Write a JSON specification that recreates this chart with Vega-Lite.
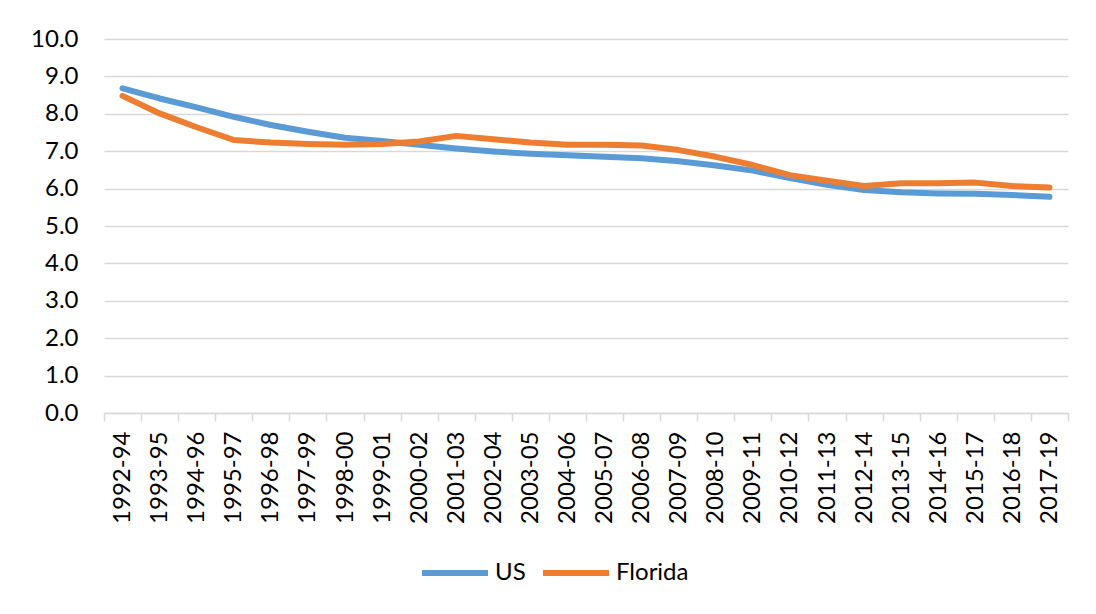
{
  "$schema": "https://vega.github.io/schema/vega-lite/v6.json",
  "autosize": {"type": "none"},
  "width": 964,
  "height": 374,
  "padding": {"left": 104, "top": 39, "right": 28, "bottom": 201},
  "background": "white",
  "config": {
    "font": "Lato",
    "view": {"stroke": null}
  },
  "data": {
    "values": [
      {"period": "1992-94", "series": "US", "value": 8.68},
      {"period": "1993-95", "series": "US", "value": 8.41},
      {"period": "1994-96", "series": "US", "value": 8.17},
      {"period": "1995-97", "series": "US", "value": 7.92},
      {"period": "1996-98", "series": "US", "value": 7.70},
      {"period": "1997-99", "series": "US", "value": 7.52},
      {"period": "1998-00", "series": "US", "value": 7.36},
      {"period": "1999-01", "series": "US", "value": 7.27},
      {"period": "2000-02", "series": "US", "value": 7.17},
      {"period": "2001-03", "series": "US", "value": 7.07},
      {"period": "2002-04", "series": "US", "value": 6.99},
      {"period": "2003-05", "series": "US", "value": 6.93},
      {"period": "2004-06", "series": "US", "value": 6.89},
      {"period": "2005-07", "series": "US", "value": 6.85},
      {"period": "2006-08", "series": "US", "value": 6.81},
      {"period": "2007-09", "series": "US", "value": 6.73},
      {"period": "2008-10", "series": "US", "value": 6.62},
      {"period": "2009-11", "series": "US", "value": 6.48},
      {"period": "2010-12", "series": "US", "value": 6.28},
      {"period": "2011-13", "series": "US", "value": 6.10},
      {"period": "2012-14", "series": "US", "value": 5.96},
      {"period": "2013-15", "series": "US", "value": 5.90},
      {"period": "2014-16", "series": "US", "value": 5.87},
      {"period": "2015-17", "series": "US", "value": 5.86},
      {"period": "2016-18", "series": "US", "value": 5.83},
      {"period": "2017-19", "series": "US", "value": 5.78},
      {"period": "1992-94", "series": "Florida", "value": 8.48},
      {"period": "1993-95", "series": "Florida", "value": 8.01},
      {"period": "1994-96", "series": "Florida", "value": 7.64},
      {"period": "1995-97", "series": "Florida", "value": 7.30},
      {"period": "1996-98", "series": "Florida", "value": 7.23},
      {"period": "1997-99", "series": "Florida", "value": 7.19},
      {"period": "1998-00", "series": "Florida", "value": 7.17},
      {"period": "1999-01", "series": "Florida", "value": 7.19},
      {"period": "2000-02", "series": "Florida", "value": 7.26},
      {"period": "2001-03", "series": "Florida", "value": 7.41},
      {"period": "2002-04", "series": "Florida", "value": 7.32},
      {"period": "2003-05", "series": "Florida", "value": 7.23},
      {"period": "2004-06", "series": "Florida", "value": 7.17},
      {"period": "2005-07", "series": "Florida", "value": 7.17},
      {"period": "2006-08", "series": "Florida", "value": 7.15},
      {"period": "2007-09", "series": "Florida", "value": 7.03},
      {"period": "2008-10", "series": "Florida", "value": 6.85},
      {"period": "2009-11", "series": "Florida", "value": 6.63},
      {"period": "2010-12", "series": "Florida", "value": 6.36},
      {"period": "2011-13", "series": "Florida", "value": 6.21},
      {"period": "2012-14", "series": "Florida", "value": 6.07},
      {"period": "2013-15", "series": "Florida", "value": 6.14},
      {"period": "2014-16", "series": "Florida", "value": 6.14},
      {"period": "2015-17", "series": "Florida", "value": 6.16},
      {"period": "2016-18", "series": "Florida", "value": 6.07},
      {"period": "2017-19", "series": "Florida", "value": 6.03}
    ]
  },
  "mark": {"type": "line", "strokeWidth": 6, "strokeCap": "round", "strokeJoin": "round"},
  "encoding": {
    "x": {
      "field": "period",
      "type": "ordinal",
      "sort": null,
      "scale": {"type": "band", "paddingInner": 0, "paddingOuter": 0},
      "axis": {
        "title": null,
        "labelAngle": 270,
        "labelFontSize": 24,
        "labelColor": "#000000",
        "labelPadding": 10,
        "tickBand": "extent",
        "tickSize": 8,
        "tickColor": "#D9D9D9",
        "tickWidth": 1.5,
        "domainColor": "#D9D9D9",
        "domainWidth": 1.5,
        "grid": false
      }
    },
    "y": {
      "field": "value",
      "type": "quantitative",
      "scale": {"domain": [0, 10], "nice": false, "zero": true},
      "axis": {
        "title": null,
        "values": [0, 1, 2, 3, 4, 5, 6, 7, 8, 9, 10],
        "format": ".1f",
        "labelFontSize": 24,
        "labelColor": "#000000",
        "labelPadding": 26,
        "ticks": false,
        "domain": false,
        "grid": true,
        "gridColor": "#D9D9D9",
        "gridWidth": 1.5
      }
    },
    "color": {
      "field": "series",
      "type": "nominal",
      "sort": ["US", "Florida"],
      "scale": {"domain": ["US", "Florida"], "range": ["#5B9BD5", "#ED7D31"]},
      "legend": {
        "title": null,
        "orient": "none",
        "direction": "horizontal",
        "legendX": 315,
        "legendY": 498,
        "symbolType": "stroke",
        "symbolSize": 4356,
        "symbolStrokeWidth": 6,
        "labelFontSize": 24,
        "labelColor": "#000000",
        "labelOffset": 4,
        "columnPadding": 5
      }
    }
  }
}
